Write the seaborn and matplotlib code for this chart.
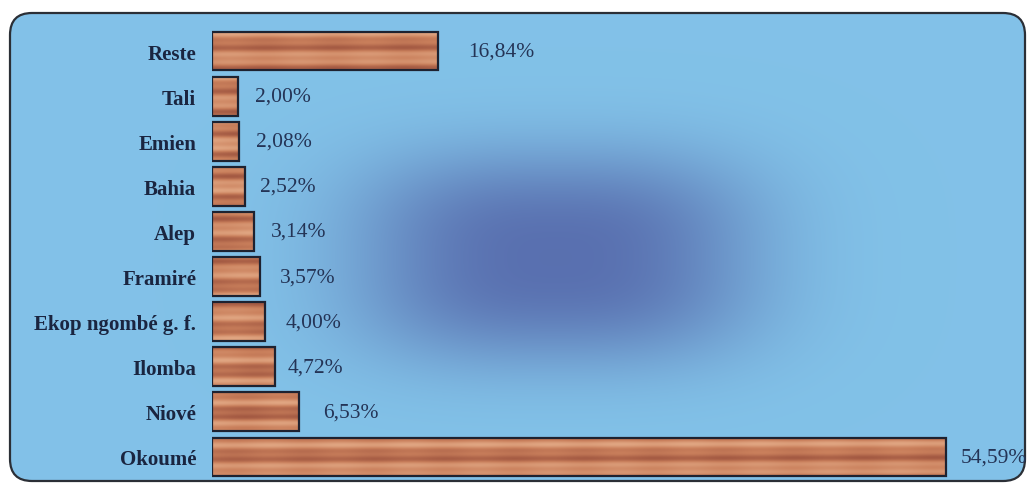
import numpy as np
import matplotlib
matplotlib.use("Agg")
import matplotlib.pyplot as plt
from matplotlib.patches import FancyBboxPatch
import seaborn as sns

# Share of each species (percent), listed top to bottom
species = ["Reste", "Tali", "Emien", "Bahia", "Alep", "Framiré",
           "Ekop ngombé g. f.", "Ilomba", "Niové", "Okoumé"]
shares = [16.84, 2.00, 2.08, 2.52, 3.14, 3.57, 4.00, 4.72, 6.53, 54.59]
value_labels = ["16,84%", "2,00%", "2,08%", "2,52%", "3,14%", "3,57%",
                "4,00%", "4,72%", "6,53%", "54,59%"]
label_gaps_px = [30, 17, 17, 15, 17, 20, 20, 13, 24, 15]

W, H, DPI = 1031, 489, 100
sns.set_theme(style="white")
plt.rcParams["font.family"] = ["Liberation Serif", "DejaVu Serif"]

fig = plt.figure(figsize=(W / DPI, H / DPI), dpi=DPI, facecolor="white")

# --- panel background: light blue with a soft dark-blue glow in the middle
bg = fig.add_axes([0, 0, 1, 1], zorder=0)
bg.set_xlim(0, W)
bg.set_ylim(H, 0)
bg.axis("off")

px0, py0, px1, py1 = 10, 14, 1025, 482
xx, yy = np.meshgrid(np.arange(px0, px1), np.arange(py0, py1))
glow = np.exp(-(np.abs(xx - 555) / 200.0) ** 2.8 - (np.abs(yy - 258) / 105.0) ** 2.8)
base = np.array([0.51, 0.76, 0.91])
deep = np.array([0.35, 0.44, 0.69])
shade = base[None, None, :] * (1 - glow[..., None]) + deep[None, None, :] * glow[..., None]
panel = FancyBboxPatch((px0, py0), px1 - px0, py1 - py0,
                       boxstyle="round,pad=0,rounding_size=22",
                       facecolor="none", edgecolor="#2b2f36", linewidth=1.6,
                       zorder=3)
bg.add_patch(panel)
im = bg.imshow(shade, extent=[px0, px1, py1, py0], aspect="auto",
               interpolation="bilinear", zorder=1)
im.set_clip_path(panel)

# --- bar chart
left_px, right_px = 211.5, 1018.5
top_px, bottom_px = 29.45, 480.55
ax = fig.add_axes([left_px / W, 1 - bottom_px / H,
                   (right_px - left_px) / W, (bottom_px - top_px) / H], zorder=2)
ax.patch.set_alpha(0)

sns.barplot(x=shares, y=species, orient="h", ax=ax, color="#c77a55",
            edgecolor="#1e2230", linewidth=1.6, width=0.86)
for s in ax.spines.values():
    s.set_visible(False)
ax.set_xticks([])
ax.set_xlabel("")
ax.set_ylabel("")
ax.tick_params(axis="y", length=0, pad=11)
for t in ax.get_yticklabels():
    t.set_fontsize(15)
    t.set_fontweight("bold")
    t.set_color("#1a2540")

# wood-grain fill clipped to each bar
light = np.array([0.88, 0.65, 0.51])
mid = np.array([0.79, 0.50, 0.36])
dark = np.array([0.64, 0.35, 0.26])
for i, bar in enumerate(ax.patches):
    x0, y0 = bar.get_x(), bar.get_y()
    bw, bh = bar.get_width(), bar.get_height()
    npx_w = max(int(bw * 13.45), 4)
    v = np.linspace(0, 1, 40)[:, None]
    u = np.linspace(0, bw * 13.45, npx_w)[None, :]
    grain = (0.50 * np.sin(2 * np.pi * (1.6 * v + 0.15 + 0.09 * i))
             + 0.28 * np.sin(2 * np.pi * (3.9 * v + 0.02 * u / 60 + 0.27 * i))
             + 0.08 * np.sin(2 * np.pi * u / 70.0 + i))
    g = (grain - grain.min()) / (grain.max() - grain.min() + 1e-9)
    g = g[..., None]
    tex = np.where(g > 0.5, mid + (light - mid) * (g - 0.5) * 2,
                   dark + (mid - dark) * g * 2)
    img = ax.imshow(tex, extent=[x0, x0 + bw, y0 + bh, y0], aspect="auto",
                    interpolation="bilinear", zorder=bar.get_zorder() - 0.1)
    img.set_clip_path(bar)
    bar.set_facecolor("none")
ax.set_xlim(0, (right_px - left_px) / 13.45)
ax.set_ylim(len(species) - 0.5, -0.5)

# value labels to the right of each bar
for i, (val, lab, gap) in enumerate(zip(shares, value_labels, label_gaps_px)):
    ax.annotate(lab, xy=(val, i), xytext=(gap * 72 / DPI, 0),
                textcoords="offset points", va="center", ha="left",
                fontsize=15.5, color="#243456", annotation_clip=False)

fig.savefig("out.png", dpi=DPI, facecolor="white")
